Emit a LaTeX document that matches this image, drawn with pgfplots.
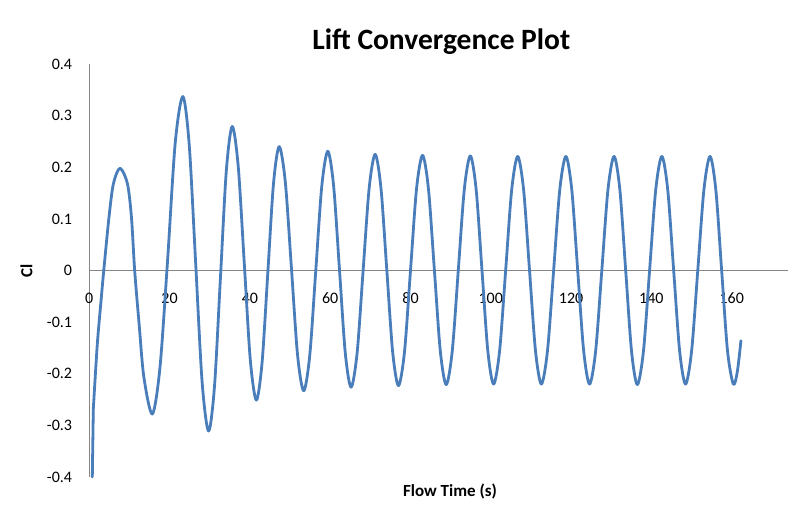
\documentclass[border=0pt]{standalone}
\usepackage{fontspec}
\setmainfont{Carlito}
\usepackage{pgfplots}
\pgfplotsset{compat=1.18}
\definecolor{lineblue}{HTML}{4A7EBB}
\definecolor{axgray}{HTML}{868686}
\begin{document}
\begin{tikzpicture}
\useasboundingbox (0,0) rectangle (789pt,512pt);
\begin{axis}[
  at={(89.3pt,35pt)}, anchor=south west,
  scale only axis, width=699pt, height=413pt,
  xmin=0, xmax=174.1, ymin=-0.4, ymax=0.4,
  axis lines=middle,
  axis line style={-, axgray, line width=0.9pt},
  hide obscured x ticks=false, hide obscured y ticks=false,
  major tick length=0pt,
  xtick={0,20,40,60,80,100,120,140,160},
  xticklabels={0,20,40,60,80,100,120,140,160},
  ytick={-0.4,-0.3,-0.2,-0.1,0,0.1,0.2,0.3,0.4},
  yticklabels={-0.4,-0.3,-0.2,-0.1,0,0.1,0.2,0.3,0.4},
  every tick label/.append style={inner sep=0pt, font=\fontsize{16}{16}\selectfont},
  xticklabel style={anchor=north, yshift=-22pt},
  yticklabel style={anchor=east, xshift=-17pt},
  title={Lift Convergence Plot},
  title style={at={(axis description cs:0.5036,1.0218)}, anchor=base, inner sep=0pt, font=\bfseries\fontsize{29.5}{30}\selectfont},
  xlabel={Flow Time (s)},
  xlabel style={at={(axis description cs:0.516,-0.046)}, anchor=base, inner sep=0pt, font=\bfseries\fontsize{17}{17}\selectfont},
  ylabel={Cl},
  ylabel style={at={(axis description cs:-0.0815,0.5)}, anchor=base, rotate=90, inner sep=0pt, font=\bfseries\fontsize{17}{17}\selectfont},
  clip=false,
]
\addplot[lineblue, line width=2.8pt, line join=round, line cap=round] coordinates {
(0.75,-0.40) (1.0,-0.268)
};
\addplot[lineblue, line width=2.8pt, smooth, line join=round, line cap=round] coordinates {
(1.0,-0.268) (2.0,-0.142) (3.0,-0.052) (3.6,0) (4.9,0.103) (6.0,0.168) (7.65,0.198)
(9.5,0.168) (10.5,0.103) (11.3,0) (12.4,-0.103) (13.6,-0.207) (15.7,-0.278)
(17.6,-0.188) (19.5,0.020) (21.4,0.247) (23.3,0.337)
(24.9,0.242) (26.5,0.013) (28.1,-0.216) (29.7,-0.311)
(31.175,-0.225) (32.65,-0.016) (34.125,0.193) (35.6,0.279)
(37.1,0.201) (38.6,0.014) (40.1,-0.173) (41.6,-0.251)
(43.025,-0.179) (44.45,-0.006) (45.875,0.168) (47.3,0.240)
(48.825,0.171) (50.35,0.004) (51.875,-0.164) (53.4,-0.233)
(54.9,-0.165) (56.4,-0.001) (57.9,0.163) (59.4,0.231)
(60.85,0.164) (62.3,0.003) (63.75,-0.159) (65.2,-0.226)
(66.7,-0.160) (68.2,0.0) (69.7,0.159) (71.2,0.225)
(72.65,0.159) (74.1,0.001) (75.55,-0.157) (77.0,-0.223)
(78.5,-0.158) (80.0,0.0) (81.5,0.158) (83.0,0.223)
(84.475,0.158) (85.95,0.001) (87.425,-0.156) (88.9,-0.221)
(90.4,-0.156) (91.9,0.0) (93.4,0.157) (94.9,0.222)
(96.35,0.157) (97.8,0.001) (99.25,-0.155) (100.7,-0.220)
(102.2,-0.155) (103.7,0.0) (105.2,0.156) (106.7,0.221)
(108.175,0.156) (109.65,0.0) (111.125,-0.155) (112.6,-0.220)
(114.125,-0.155) (115.65,0.0) (117.175,0.156) (118.7,0.221)
(120.175,0.156) (121.65,0.0) (123.125,-0.155) (124.6,-0.220)
(126.125,-0.155) (127.65,0.0) (129.175,0.156) (130.7,0.221)
(132.15,0.156) (133.6,0.0) (135.05,-0.156) (136.5,-0.221)
(138.025,-0.156) (139.55,0.0) (141.075,0.156) (142.6,0.221)
(144.075,0.156) (145.55,0.0) (147.025,-0.155) (148.5,-0.220)
(150.025,-0.155) (151.55,0.0) (153.075,0.156) (154.6,0.221)
(156.05,0.156) (157.5,0.0) (158.95,-0.155) (160.4,-0.220)
(161.4,-0.196) (162.3,-0.136)
};
\end{axis}
\end{tikzpicture}
\end{document}
